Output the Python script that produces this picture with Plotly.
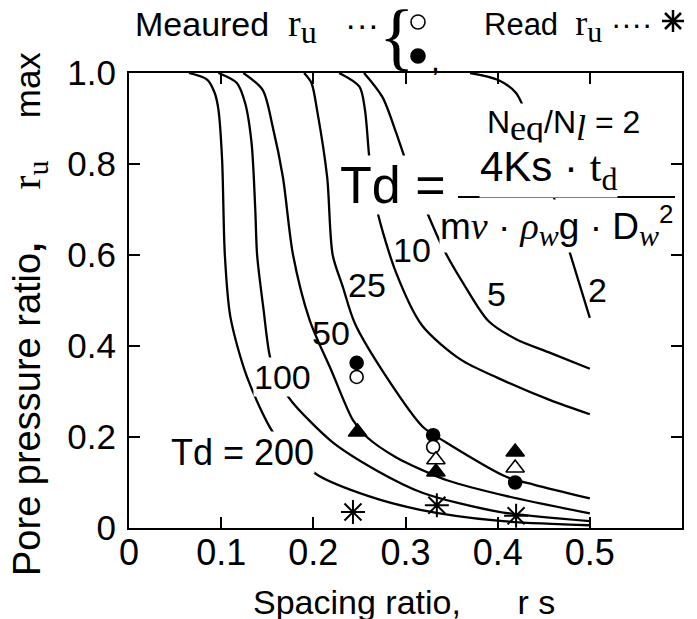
import plotly.graph_objects as go

# ---------------- data ----------------
TD_LABELS = ["200", "100", "50", "25", "10", "5", "2"]

RS_200 = [0.065, 0.085, 0.093, 0.097, 0.101, 0.104, 0.110, 0.128, 0.156, 0.180, 0.205, 0.260, 0.316, 0.400, 0.500]
RU_200 = [1.000, 0.985, 0.956, 0.920, 0.810, 0.600, 0.464, 0.332, 0.211, 0.158, 0.116, 0.070, 0.040, 0.016, 0.006]

RS_100 = [0.097, 0.117, 0.126, 0.133, 0.137, 0.139, 0.146, 0.153, 0.163, 0.177, 0.220, 0.270, 0.319, 0.400, 0.500]
RU_100 = [1.000, 0.978, 0.934, 0.846, 0.700, 0.600, 0.480, 0.376, 0.320, 0.277, 0.190, 0.125, 0.077, 0.036, 0.015]

RS_50 = [0.124, 0.145, 0.156, 0.167, 0.178, 0.196, 0.220, 0.243, 0.258, 0.290, 0.323, 0.345, 0.410, 0.500]
RU_50 = [1.000, 0.963, 0.881, 0.771, 0.600, 0.457, 0.344, 0.237, 0.200, 0.155, 0.123, 0.105, 0.070, 0.032]

RS_25 = [0.190, 0.198, 0.204, 0.215, 0.221, 0.232, 0.245, 0.280, 0.319, 0.345, 0.410, 0.440, 0.500]
RU_25 = [1.000, 0.978, 0.919, 0.771, 0.600, 0.530, 0.450, 0.330, 0.222, 0.187, 0.112, 0.095, 0.065]

RS_10 = [0.228, 0.250, 0.256, 0.261, 0.269, 0.290, 0.318, 0.360, 0.400, 0.457, 0.500]
RU_10 = [1.000, 0.970, 0.919, 0.809, 0.700, 0.560, 0.445, 0.370, 0.330, 0.281, 0.250]

RS_5 = [0.255, 0.275, 0.290, 0.300, 0.320, 0.340, 0.365, 0.390, 0.420, 0.457, 0.500]
RU_5 = [1.000, 0.947, 0.868, 0.809, 0.710, 0.618, 0.530, 0.455, 0.415, 0.385, 0.350]

RS_2 = [0.370, 0.400, 0.420, 0.450, 0.478, 0.500]
RU_2 = [1.000, 0.985, 0.956, 0.800, 0.607, 0.462]

# measured / read points
FILLED_CIRCLE_RS = [0.247, 0.330, 0.419]
FILLED_CIRCLE_RU = [0.363, 0.204, 0.100]
OPEN_CIRCLE_RS = [0.247, 0.330]
OPEN_CIRCLE_RU = [0.332, 0.178]
FILLED_TRI_RS = [0.248, 0.333, 0.419]
FILLED_TRI_RU = [0.211, 0.123, 0.167]
OPEN_TRI_RS = [0.333, 0.419]
OPEN_TRI_RU = [0.150, 0.132]
READ_RS = [0.243, 0.334, 0.420]
READ_RU = [0.035, 0.050, 0.027]

X_TICKS = [0, 0.1, 0.2, 0.3, 0.4, 0.5]
X_TICK_TEXT = ["0", "0.1", "0.2", "0.3", "0.4", "0.5"]
Y_TICKS = [0, 0.2, 0.4, 0.6, 0.8, 1.0]
Y_TICK_TEXT = ["0", "0.2", "0.4", "0.6", "0.8", "1.0"]

# curve-label anchor positions (data coordinates)
LABEL_RS = [0.2017, 0.166, 0.219, 0.258, 0.307, 0.399, 0.508]
LABEL_RU = [0.165, 0.332, 0.429, 0.534, 0.611, 0.514, 0.523]

# ---------------- figure ----------------
PAGE_OFF = 8                      # default body margin of the html page
W, H = 697 - PAGE_OFF, 619 - PAGE_OFF
ML, MT = 129 - PAGE_OFF, 73 - PAGE_OFF
PW, PH = 553, 455
MR, MB = W - ML - PW, H - MT - PH


def px(x):   # screen x -> paper
    return (x - PAGE_OFF - ML) / PW


def py(y):   # screen y -> paper
    return (MT + PH - (y - PAGE_OFF)) / PH


SANS = "Liberation Sans, Arial, sans-serif"
SERIF = "Liberation Serif, Times New Roman, serif"


def serif(t, size=None):
    st = "font-family:Liberation Serif"
    if size:
        st += ";font-size:%dpx" % size
    return "<span style='%s'>%s</span>" % (st, t)


fig = go.Figure()

curves = [(RS_200, RU_200), (RS_100, RU_100), (RS_50, RU_50), (RS_25, RU_25),
          (RS_10, RU_10), (RS_5, RU_5), (RS_2, RU_2)]
for (xs, ys), lab in zip(curves, TD_LABELS):
    fig.add_trace(go.Scatter(x=xs, y=ys, mode="lines", name="Td=" + lab,
                             line=dict(color="black", width=2.3, shape="spline", smoothing=0.8),
                             showlegend=False, hoverinfo="skip"))

mk_line = dict(color="black", width=1.6)
fig.add_trace(go.Scatter(x=FILLED_CIRCLE_RS, y=FILLED_CIRCLE_RU, mode="markers",
                         marker=dict(symbol="circle", size=13, color="black", line=mk_line), showlegend=False))
fig.add_trace(go.Scatter(x=OPEN_CIRCLE_RS, y=OPEN_CIRCLE_RU, mode="markers",
                         marker=dict(symbol="circle", size=13, color="white", line=mk_line), showlegend=False))
fig.add_trace(go.Scatter(x=OPEN_TRI_RS, y=OPEN_TRI_RU, mode="markers",
                         marker=dict(symbol="triangle-up", size=16, color="white", line=mk_line), showlegend=False))
fig.add_trace(go.Scatter(x=FILLED_TRI_RS, y=FILLED_TRI_RU, mode="markers",
                         marker=dict(symbol="triangle-up", size=16, color="black", line=mk_line), showlegend=False))
fig.add_trace(go.Scatter(x=READ_RS, y=READ_RU, mode="markers",
                         marker=dict(symbol="asterisk-open", size=20, color="black",
                                     line=dict(color="black", width=2)), showlegend=False))

ann = []


def note(x, y, text, size, family=SANS, xanchor="center", yanchor="middle", bg=None, **kw):
    d = dict(x=px(x), y=py(y), xref="paper", yref="paper", text=text, showarrow=False,
             xanchor=xanchor, yanchor=yanchor, font=dict(family=family, size=size, color="black"))
    if bg:
        d.update(bgcolor=bg, borderpad=0)
    d.update(kw)
    ann.append(d)


# formula block
note(563, 126, "N<sub>" + serif("eq", 36) + "</sub>/N<sub><i>" + serif("l", 36) + "</i></sub> = 2", 32, bg="white")
note(447, 185, "Td =", 52, xanchor="right", bg="white")
note(548, 170, "4Ks · " + serif("t", 42) + "<sub>" + serif("d", 32) + "</sub>", 42, bg="white")
note(556, 226, "m<i>" + serif("v", 38) + "</i> · <i>" + serif("ρ", 38) + "</i><sub><i>" + serif("w", 30)
     + "</i></sub>g · D<sub><i>" + serif("w", 30) + "</i></sub><sup>2</sup>", 37, bg="white")

# curve labels (data coordinates)
for i, (lab, lx, ly) in enumerate(zip(TD_LABELS, LABEL_RS, LABEL_RU)):
    d = dict(x=lx, y=ly, xref="x", yref="y", showarrow=False, yanchor="middle",
             font=dict(family=SANS, size=34 if i else 36, color="black"))
    if i == 0:
        d.update(text="Td = " + lab, xanchor="right", bgcolor="white", borderpad=0)
    elif i == 1:
        d.update(text=lab, xanchor="center", bgcolor="white", borderpad=0)
    else:
        d.update(text=lab, xanchor="center")
    ann.append(d)

# top legend
note(133, 26, "Meaured  " + serif("r", 38) + "<sub>" + serif("u", 32) + "</sub>   ···", 34, xanchor="left")
note(397, 36, "{", 74, family=SERIF)
note(435, 60, ",", 32)
note(482, 26, "Read  " + serif("r", 36) + "<sub>" + serif("u", 30) + "</sub> ····", 31, xanchor="left")

# axis titles
note(404, 602, "Spacing ratio,      r s", 34)
note(28, 314, "Pore pressure ratio<b>,</b>     " + serif("r", 42) + "<sub>" + serif("u", 30)
     + "</sub>    <span style='font-size:35px'>max</span>", 38, textangle=-90)

shapes = [
    # fraction bar
    dict(type="line", xref="paper", yref="paper", x0=px(458), x1=px(675), y0=py(197), y1=py(197),
         line=dict(color="black", width=2)),
    # legend circles
    dict(type="circle", xref="paper", yref="paper", xsizemode="pixel", ysizemode="pixel",
         xanchor=px(418), yanchor=py(22), x0=-7, x1=7, y0=-7, y1=7,
         line=dict(color="black", width=1.6), fillcolor="white"),
    dict(type="circle", xref="paper", yref="paper", xsizemode="pixel", ysizemode="pixel",
         xanchor=px(418), yanchor=py(56), x0=-7, x1=7, y0=-7, y1=7,
         line=dict(color="black", width=1.6), fillcolor="black"),
]
# legend asterisk
for dx0, dy0 in [(-11, 0), (0, -11), (-8, -8), (-8, 8)]:
    shapes.append(dict(type="line", xref="paper", yref="paper", xsizemode="pixel", ysizemode="pixel",
                       xanchor=px(673), yanchor=py(21), x0=dx0, x1=-dx0, y0=dy0, y1=-dy0,
                       line=dict(color="black", width=2.5)))

axis_common = dict(showline=True, linecolor="black", linewidth=2, mirror="allticks",
                   ticks="inside", ticklen=11, tickwidth=2, tickcolor="black",
                   showgrid=False, zeroline=False)

fig.update_layout(
    width=W, height=H,
    margin=dict(l=ML, r=MR, t=MT, b=MB),
    paper_bgcolor="white", plot_bgcolor="white",
    xaxis=dict(range=[0, 0.6], tickvals=X_TICKS, ticktext=X_TICK_TEXT, ticklabelstandoff=-8,
               tickfont=dict(family=SANS, size=36, color="black"), **axis_common),
    yaxis=dict(range=[0, 1.0], tickvals=Y_TICKS, ticktext=Y_TICK_TEXT, ticklabelstandoff=4,
               tickfont=dict(family=SANS, size=35, color="black"), **axis_common),
    annotations=ann, shapes=shapes,
)

fig.write_html("out.html")
